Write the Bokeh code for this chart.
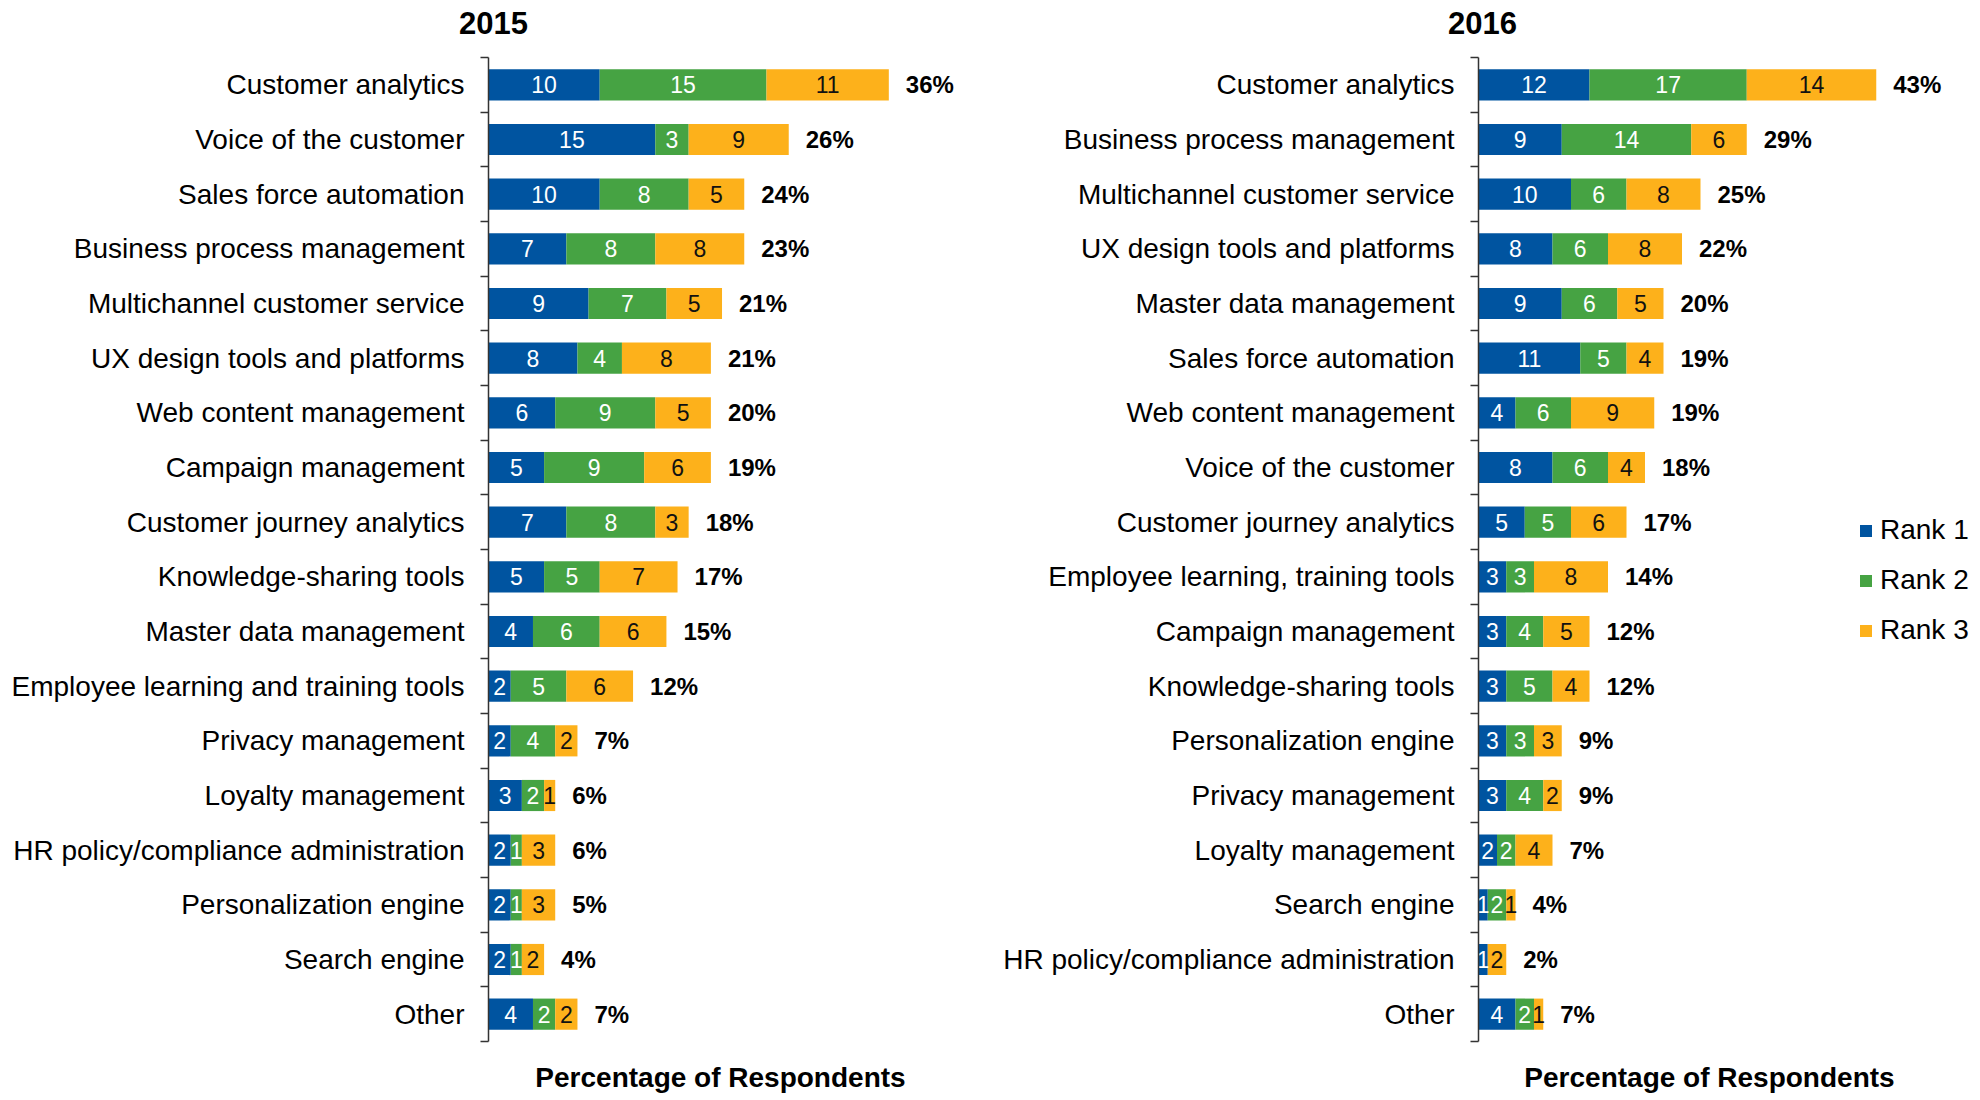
from bokeh.plotting import figure
from bokeh.layouts import row, column
from bokeh.models import Range1d, LinearAxis, FixedTicker, ColumnDataSource
from bokeh.core.properties import value
from bokeh.embed import file_html
from bokeh.resources import INLINE

# ---------------- data ----------------
years = ["2015", "2016"]

categories_2015 = [
    "Customer analytics", "Voice of the customer", "Sales force automation",
    "Business process management", "Multichannel customer service",
    "UX design tools and platforms", "Web content management",
    "Campaign management", "Customer journey analytics",
    "Knowledge-sharing tools", "Master data management",
    "Employee learning and training tools", "Privacy management",
    "Loyalty management", "HR policy/compliance administration",
    "Personalization engine", "Search engine", "Other",
]
rank1_2015 = [10, 15, 10, 7, 9, 8, 6, 5, 7, 5, 4, 2, 2, 3, 2, 2, 2, 4]
rank2_2015 = [15, 3, 8, 8, 7, 4, 9, 9, 8, 5, 6, 5, 4, 2, 1, 1, 1, 2]
rank3_2015 = [11, 9, 5, 8, 5, 8, 5, 6, 3, 7, 6, 6, 2, 1, 3, 3, 2, 2]
total_pct_2015 = [36, 26, 24, 23, 21, 21, 20, 19, 18, 17, 15, 12, 7, 6, 6, 5, 4, 7]

categories_2016 = [
    "Customer analytics", "Business process management",
    "Multichannel customer service", "UX design tools and platforms",
    "Master data management", "Sales force automation",
    "Web content management", "Voice of the customer",
    "Customer journey analytics", "Employee learning, training tools",
    "Campaign management", "Knowledge-sharing tools",
    "Personalization engine", "Privacy management", "Loyalty management",
    "Search engine", "HR policy/compliance administration", "Other",
]
rank1_2016 = [12, 9, 10, 8, 9, 11, 4, 8, 5, 3, 3, 3, 3, 3, 2, 1, 1, 4]
rank2_2016 = [17, 14, 6, 6, 6, 5, 6, 6, 5, 3, 4, 5, 3, 4, 2, 2, 0, 2]
rank3_2016 = [14, 6, 8, 8, 5, 4, 9, 4, 6, 8, 5, 4, 3, 2, 4, 1, 2, 1]
total_pct_2016 = [43, 29, 25, 22, 20, 19, 19, 18, 17, 14, 12, 12, 9, 9, 7, 4, 2, 7]

rank_names = ["Rank 1", "Rank 2", "Rank 3"]
x_title = "Percentage of Respondents"

# ---------------- style / layout ----------------
FONT = "Liberation Sans"
BAR_COLORS = ["#0054A0", "#46A343", "#FDB11B"]
NUM_COLORS = ["white", "white", "#111111"]
W = 990
TOP_H, MAIN_H, BOT_H = 55, 988, 57        # 55 + 988 + 57 = 1100
FRAME_LEFT = 488
PAD = 2                                   # keeps end ticks from being cut


def caption_fig(height, xs, y, texts, size):
    """A strip in pixel coordinates (y measured from its top) that only holds captions."""
    f = figure(width=2 * W, height=height, output_backend="svg", toolbar_location=None,
               x_range=Range1d(0, 2 * W), y_range=Range1d(height, 0),
               x_axis_location=None, y_axis_location=None,
               min_border=0, min_border_left=0, min_border_right=0,
               min_border_top=0, min_border_bottom=0)
    f.outline_line_color = None
    f.grid.grid_line_color = None
    f.text(x=xs, y=[y] * len(xs), text=texts, text_align="center", text_baseline="middle",
           text_font=value(FONT), text_font_size=size, text_font_style="bold",
           text_color="black")
    return f


def make_panel(cats, r1, r2, r3, pct, px_per_unit, border_right, legend_loc=None):
    n = len(cats)
    frame_w = W - FRAME_LEFT - border_right
    xmax = frame_w / px_per_unit

    ys = [n - i - 0.5 for i in range(n)]
    src = ColumnDataSource(dict(y=ys, r1=r1, r2=r2, r3=r3))

    p = figure(width=W, height=MAIN_H, output_backend="svg", toolbar_location=None,
               x_range=Range1d(0, xmax), y_range=Range1d(0, n),
               x_axis_location=None, y_axis_location=None,
               min_border_left=FRAME_LEFT, min_border_right=border_right,
               min_border_top=PAD, min_border_bottom=PAD)
    p.outline_line_color = None
    p.grid.grid_line_color = None

    yaxis = LinearAxis(
        ticker=FixedTicker(ticks=ys, minor_ticks=list(range(n + 1))),
        major_label_overrides={y: c for y, c in zip(ys, cats)},
        major_tick_out=0, major_tick_in=0, major_tick_line_color=None,
        minor_tick_out=8, minor_tick_in=0, minor_tick_line_color="#333333",
        minor_tick_line_width=1.5,
        axis_line_color="#333333", axis_line_width=1.5,
        major_label_standoff=16, major_label_text_font=FONT,
        major_label_text_font_size="28px", major_label_text_color="black",
    )
    p.add_layout(yaxis, "left")

    kw = {}
    if legend_loc is not None:
        kw["legend_label"] = rank_names
    p.hbar_stack(["r1", "r2", "r3"], y="y", height=0.57, color=BAR_COLORS,
                 line_color=None, source=src, **kw)

    # segment numbers
    left = [0] * n
    for k, vals in enumerate([r1, r2, r3]):
        xs, yy, tt = [], [], []
        for i in range(n):
            if vals[i] > 0:
                xs.append(left[i] + vals[i] / 2)
                yy.append(ys[i])
                tt.append(str(vals[i]))
            left[i] += vals[i]
        p.text(x=xs, y=yy, text=tt, text_align="center", text_baseline="middle",
               text_font=value(FONT), text_font_size="23px", text_color=NUM_COLORS[k])

    # total labels
    p.text(x=left, y=ys, text=[f"{v}%" for v in pct], x_offset=17,
           text_align="left", text_baseline="middle", text_font=value(FONT),
           text_font_size="24px", text_font_style="bold", text_color="black")

    if legend_loc is not None:
        leg = p.legend[0]
        leg.location = legend_loc
        leg.orientation = "vertical"
        leg.glyph_width = 15
        leg.glyph_height = 15
        leg.label_height = 31
        leg.spacing = 18
        leg.padding = 0
        leg.margin = 0
        leg.label_standoff = 7
        leg.label_text_font = FONT
        leg.label_text_font_size = "28px"
        leg.label_text_color = "black"
        leg.border_line_color = None
        leg.background_fill_alpha = 0
    return p


p1 = make_panel(categories_2015, rank1_2015, rank2_2015, rank3_2015,
                total_pct_2015, 11.12, 20)
p2 = make_panel(categories_2016, rank1_2016, rank2_2016, rank3_2016,
                total_pct_2016, 9.25, 0, legend_loc=(380, 395))

top = caption_fig(TOP_H, [493, W + 492], 22, years, "31px")
bottom = caption_fig(BOT_H, [720, W + 719], 34, [x_title, x_title], "28px")

layout = column(top, row(p1, p2, spacing=0), bottom, spacing=0)
open("out.html", "w").write(file_html(layout, INLINE))
